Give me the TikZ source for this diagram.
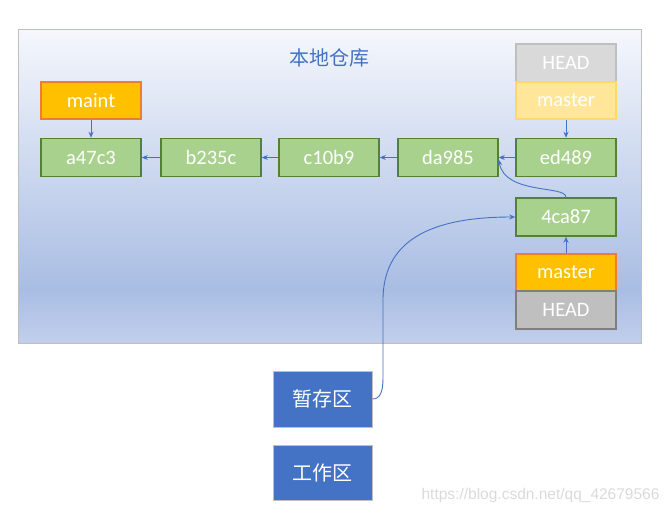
\documentclass[tikz,border=0pt]{standalone}
\usepackage{fontspec}
\setmainfont{Carlito}
\newfontfamily\cjk{Noto Sans CJK SC}
\newfontfamily\wmfont{Liberation Sans}
\usetikzlibrary{arrows.meta}
\definecolor{rtop}{HTML}{F5F7FC}
\definecolor{rmid}{HTML}{A9BDE3}
\definecolor{rbot}{HTML}{C2CFEC}
\definecolor{framegray}{HTML}{BFBFBF}
\definecolor{cgreen}{HTML}{A9D18E}
\definecolor{cdark}{HTML}{548235}
\definecolor{gold}{HTML}{FFC000}
\definecolor{orangeb}{HTML}{ED7D31}
\definecolor{paleg}{HTML}{FFE699}
\definecolor{palegb}{HTML}{FFD966}
\definecolor{lgray}{HTML}{D9D9D9}
\definecolor{mgray}{HTML}{BFBFBF}
\definecolor{dgray}{HTML}{7F7F7F}
\definecolor{ablue}{HTML}{4472C4}
\definecolor{wmgray}{HTML}{DADADA}
\pgfdeclareverticalshading{repo}{100bp}{color(0bp)=(rbot); color(25bp)=(rbot); color(33.5bp)=(rmid); color(75bp)=(rtop); color(100bp)=(rtop)}
\begin{document}
\begin{tikzpicture}[x=1pt,y=-1pt,
  box/.style={minimum width=100pt, minimum height=38pt, line width=1.5pt, text=white,
    font=\fontsize{20.5}{24}\selectfont, inner sep=0pt},
  commit/.style={box, fill=cgreen, draw=cdark},
  branchbox/.style={box, fill=gold, draw=orangeb},
  fadedbranch/.style={box, fill=paleg, draw=palegb, minimum height=37pt},
  headlight/.style={box, fill=lgray, draw=mgray},
  headdark/.style={box, fill=mgray, draw=dgray},
  area/.style={minimum width=99pt, minimum height=56pt, fill=ablue, draw=mgray, line width=1pt,
    text=white, font=\cjk\fontsize{20}{24}\selectfont, inner sep=0pt},
  link/.style={draw=ablue, line width=0.9pt, -{Stealth[length=6pt,width=5pt]}}]
\useasboundingbox (0,0) rectangle (671,514);
\node[shading=repo, draw=framegray, line width=0.8pt, minimum width=623pt, minimum height=314pt, inner sep=0pt] (repo) at (329.5,186) {};
\node[text=ablue, font=\cjk\fontsize{20}{24}\selectfont] (title) at (329,58) {本地仓库};
\node[headlight] (headtop) at (566,63) {HEAD};
\node[fadedbranch] (mtop) at (566,100.5) {master};
\node[branchbox, minimum height=37pt] (maint) at (91,100.5) {maint};
\node[commit] (a47c3) at (91,157.5) {a47c3};
\node[commit] (b235c) at (211,157.5) {b235c};
\node[commit] (c10b9) at (329,157.5) {c10b9};
\node[commit] (da985) at (448,157.5) {da985};
\node[commit] (ed489) at (566,157.5) {ed489};
\node[commit] (c4ca87) at (566,217) {4ca87};
\node[branchbox, minimum height=37pt] (mbot) at (566,272.5) {master};
\node[headdark] (headbot) at (566,310) {HEAD};
\node[area] (stage) at (322.5,399) {暂存区};
\node[area, minimum height=55pt] (work) at (322.5,472.5) {工作区};
\node[text=wmgray, font=\wmfont\fontsize{15.5}{18}\selectfont, anchor=east] (wm) at (663,495) {https://blog.csdn.net/qq\_42679566};
\draw[link] (maint) -- (a47c3);
\draw[link] (b235c) -- (a47c3);
\draw[link] (c10b9) -- (b235c);
\draw[link] (da985) -- (c10b9);
\draw[link] (ed489) -- (da985);
\draw[link] (mtop) -- (ed489);
\draw[link] (mbot) -- (c4ca87);
\draw[link] (c4ca87.north) .. controls (566,185) and (505,195) .. ([yshift=-2pt]da985.east);
\coordinate (bendlow) at (383,378);
\coordinate (bendhigh) at (383,300);
\draw[link] (stage.east) .. controls (380,399) and (383,392) .. (bendlow) -- (bendhigh) .. controls (383,235) and (440,217) .. (c4ca87.west);
\end{tikzpicture}
\end{document}
